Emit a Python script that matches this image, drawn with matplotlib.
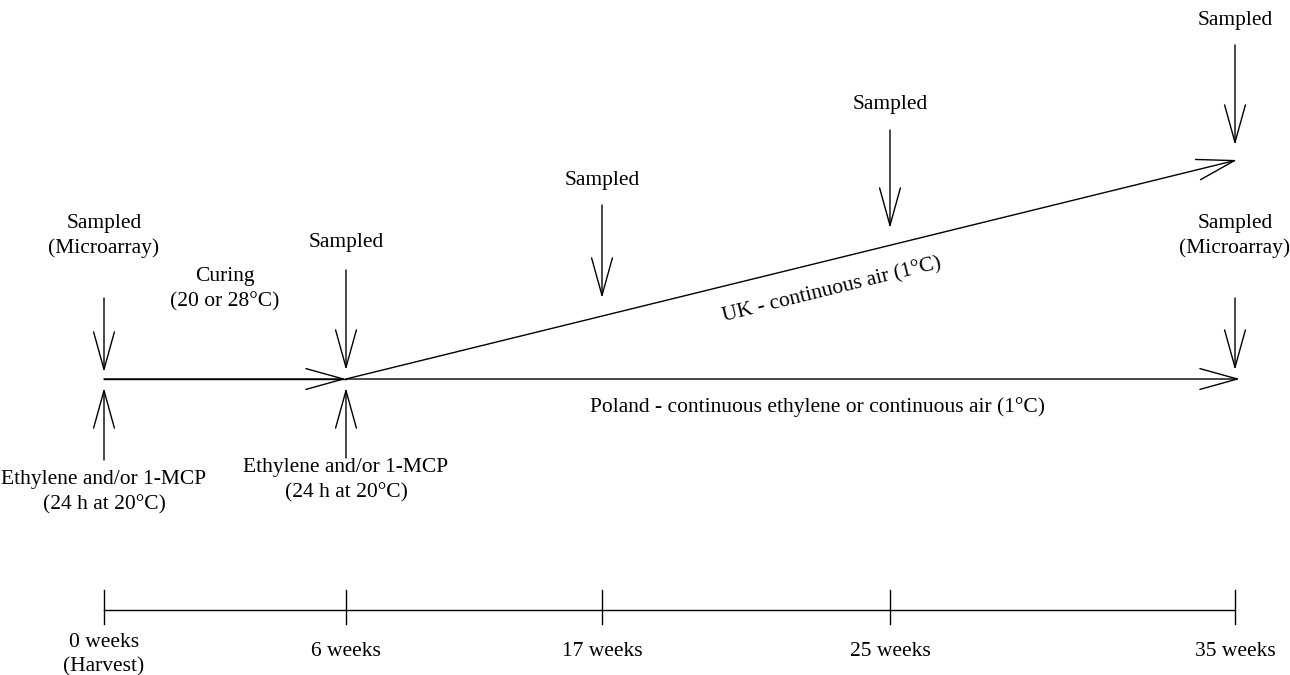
import matplotlib.pyplot as plt
from matplotlib.patches import FancyArrowPatch

plt.rcParams['font.family'] = ['Liberation Serif', 'DejaVu Serif']

# timeline labels
week_labels = ['0 weeks\n(Harvest)', '6 weeks', '17 weeks', '25 weeks', '35 weeks']
# horizontal layout of the stages (pixels)
stage_x = [104, 346, 602, 890, 1235]

sample_labels = ['Sampled\n(Microarray)', 'Sampled', 'Sampled', 'Sampled', 'Sampled', 'Sampled\n(Microarray)']
treatment_label = 'Ethylene and/or 1-MCP\n(24 h at 20°C)'
curing_label = 'Curing\n(20 or 28°C)'
uk_label = 'UK - continuous air (1°C)'
poland_label = 'Poland - continuous ethylene or continuous air (1°C)'

FS = 15.5
LW = 1.0
STYLE = '->,head_length=27,head_width=7.5'

fig = plt.figure(figsize=(12.9, 6.75), dpi=100)
ax = fig.add_axes([0, 0, 1, 1])
ax.set_xlim(0, 1290)
ax.set_ylim(675, 0)
ax.axis('off')


def arrow(tail, tip):
    ax.add_patch(FancyArrowPatch(tail, tip, arrowstyle=STYLE, mutation_scale=1,
                                 shrinkA=0, shrinkB=0, lw=LW, color='black'))


def label(x, y, s, **kw):
    ax.text(x, y, s, ha='center', va='center', fontsize=FS, linespacing=1.4, **kw)


y_main = 379
# main horizontal storage line (Poland)
ax.plot([stage_x[0], stage_x[1]], [y_main, y_main], color='black', lw=LW)
arrow((stage_x[0], y_main), (stage_x[1], y_main))
arrow((stage_x[1], y_main), (stage_x[4] + 5, y_main))
# diagonal UK line
arrow((stage_x[1], y_main), (stage_x[4] + 2, 160))

label(225, 289, curing_label)
label(817, 407, poland_label)
label(832, 290, uk_label, rotation=13.8, rotation_mode='anchor')

# sampling arrows (down)
down = [(stage_x[0], 298, 372, 236), (stage_x[1], 270, 370, 242),
        (stage_x[2], 205, 298, 180), (stage_x[3], 130, 228, 104),
        (stage_x[4], 45, 145, 20), (stage_x[4], 298, 370, 236)]
for (x, y0, y1, ty), s in zip(down, sample_labels):
    arrow((x, y0), (x, y1))
    label(x, ty, s)

# treatment arrows (up)
for x, y0, ty in [(stage_x[0], 460, 492), (stage_x[1], 458, 480)]:
    arrow((x, y0), (x, 388))
    label(x, ty, treatment_label)

# timeline
y_t = 610
ax.plot([stage_x[0], stage_x[-1]], [y_t, y_t], color='black', lw=LW)
for x, s in zip(stage_x, week_labels):
    ax.plot([x, x], [y_t - 20, y_t + 14], color='black', lw=LW)
    if '\n' in s:
        label(x, 655, s)
    else:
        label(x, 651, s)

fig.savefig('out.png', dpi=100)
